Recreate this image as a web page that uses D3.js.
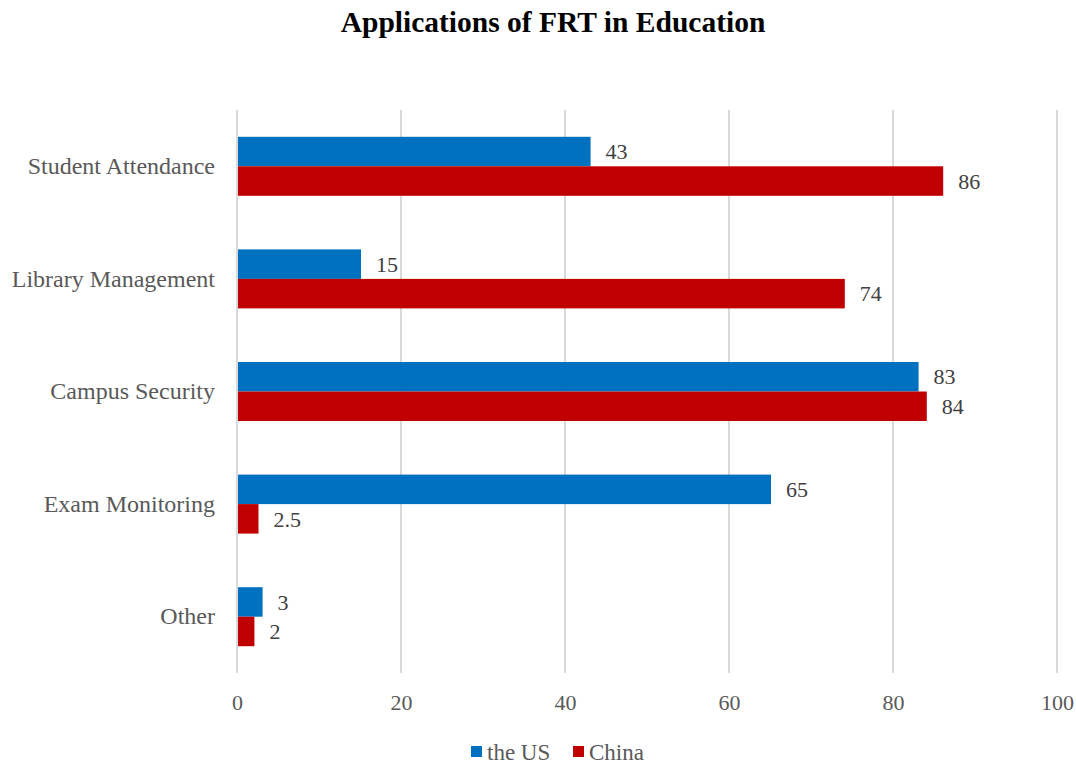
<!DOCTYPE html>
<html>
<head>
<meta charset="utf-8">
<script src="https://cdn.jsdelivr.net/npm/d3@7"></script>
<style>
  body { margin: 0; background: #fff; }
  svg { display: block; }
  text { font-family: "Liberation Serif", "Times New Roman", serif; }
</style>
</head>
<body>
<svg id="chart" width="1076" height="764"></svg>
<script>
// Survey categories, top to bottom
const categories = ["Student Attendance", "Library Management", "Campus Security", "Exam Monitoring", "Other"];
const seriesNames = ["the US", "China"];
const usValues = [43, 15, 83, 65, 3];
const chinaValues = [86, 74, 84, 2.5, 2];
const xTicks = [0, 20, 40, 60, 80, 100];
const colors = ["#0070C0", "#C00000"];

const svg = d3.select("#chart");
const margin = { top: 110, right: 19, bottom: 91, left: 237 };
const width = 1076 - margin.left - margin.right;
const height = 764 - margin.top - margin.bottom;

const x = d3.scaleLinear().domain([0, 100]).range([0, width]);
const y = d3.scaleBand().domain(categories).range([0, height]).paddingInner(0.476).paddingOuter(0.238);
const ySub = d3.scaleBand().domain(seriesNames).range([0, y.bandwidth()]);

const g = svg.append("g").attr("transform", `translate(${margin.left},${margin.top})`);

// Title
svg.append("text")
  .attr("x", 553).attr("y", 32)
  .attr("text-anchor", "middle")
  .attr("font-size", 29.5).attr("font-weight", "bold").attr("fill", "#000")
  .text("Applications of FRT in Education");

// Vertical gridlines
g.append("g").selectAll("line").data(xTicks).join("line")
  .attr("x1", d => x(d)).attr("x2", d => x(d))
  .attr("y1", 0).attr("y2", height)
  .attr("stroke", "#d9d9d9").attr("stroke-width", 2);

// X axis labels
const xAxis = g.append("g").attr("transform", `translate(0,${height})`)
  .call(d3.axisBottom(x).tickValues(xTicks).tickSize(0).tickPadding(21));
xAxis.select(".domain").remove();
xAxis.selectAll("text").attr("font-size", 22).attr("fill", "#595959")
  .attr("font-family", "Liberation Serif, Times New Roman, serif");

// Y axis labels
const yAxis = g.append("g")
  .call(d3.axisLeft(y).tickSize(0).tickPadding(22));
yAxis.select(".domain").remove();
yAxis.selectAll("text").attr("font-size", 24).attr("fill", "#595959")
  .attr("font-family", "Liberation Serif, Times New Roman, serif");

// Bars
const rows = categories.map((c, i) => ({ cat: c, vals: [usValues[i], chinaValues[i]] }));
const groups = g.append("g").selectAll("g").data(rows).join("g")
  .attr("transform", d => `translate(0,${y(d.cat)})`);

groups.selectAll("rect").data(d => d.vals.map((v, j) => ({ s: seriesNames[j], v, j }))).join("rect")
  .attr("x", x(0) + 1)
  .attr("y", d => ySub(d.s))
  .attr("width", d => x(d.v) - x(0))
  .attr("height", ySub.bandwidth())
  .attr("fill", d => colors[d.j]);

groups.selectAll("text.val").data(d => d.vals.map((v, j) => ({ s: seriesNames[j], v, j }))).join("text")
  .attr("class", "val")
  .attr("x", d => x(d.v) + 16)
  .attr("y", d => ySub(d.s) + ySub.bandwidth() / 2)
  .attr("dy", "0.35em")
  .attr("font-size", 22).attr("fill", "#404040")
  .text(d => d.v);

// Legend
const legend = svg.append("g").attr("transform", "translate(471,746)");
const items = legend.selectAll("g").data(seriesNames).join("g")
  .attr("transform", (d, i) => `translate(${i * 102},0)`);
items.append("rect").attr("width", 11).attr("height", 11).attr("fill", (d, i) => colors[i]);
items.append("text").attr("x", 16).attr("y", 6).attr("dy", "0.35em")
  .attr("font-size", 23).attr("fill", "#595959").text(d => d);
</script>
</body>
</html>
